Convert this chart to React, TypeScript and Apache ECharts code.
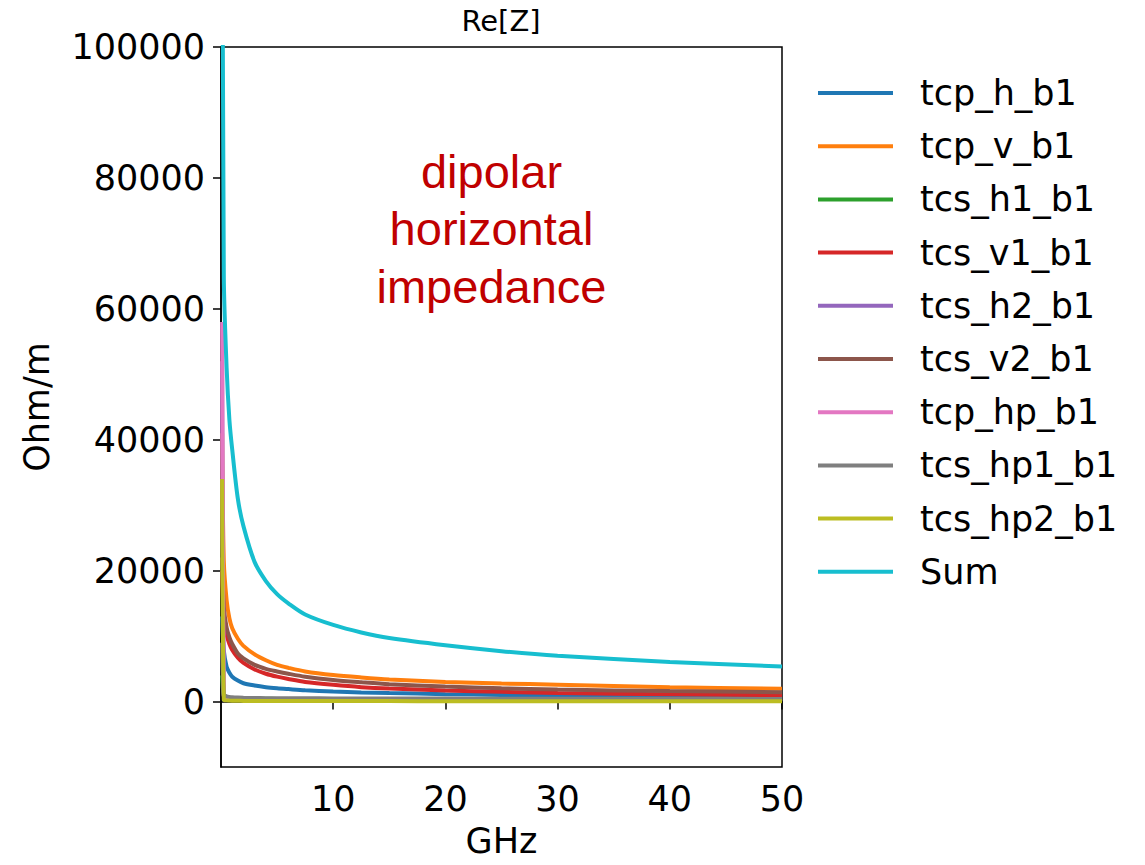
import React, { useEffect, useRef } from "react";
import * as echarts from "echarts";

const freq = [0.1, 0.25, 0.5, 0.75, 1, 1.5, 2, 3, 4, 5, 6, 7.5, 10, 12.5, 15, 20, 25, 30, 40, 50];

const seriesNames = [
  "tcp_h_b1", "tcp_v_b1", "tcs_h1_b1", "tcs_v1_b1", "tcs_h2_b1",
  "tcs_v2_b1", "tcp_hp_b1", "tcs_hp1_b1", "tcs_hp2_b1", "Sum",
];

const colors = [
  "#1f77b4", "#ff7f0e", "#2ca02c", "#d62728", "#9467bd",
  "#8c564b", "#e377c2", "#7f7f7f", "#bcbd22", "#17becf",
];

// Ohm/m values
const tcpH = [13000, 7800, 5300, 4400, 3800, 3200, 2800, 2450, 2200, 2030, 1900, 1720, 1530, 1400, 1300, 1130, 1000, 890, 730, 610];
const tcpV = [41000, 21500, 15500, 12700, 11200, 9600, 8500, 7200, 6300, 5600, 5150, 4600, 4050, 3680, 3380, 3000, 2750, 2580, 2200, 1940];
const tcsH1 = [4000, 1000, 700, 600, 550, 500, 470, 440, 420, 400, 390, 380, 360, 350, 340, 320, 305, 290, 270, 250];
const tcsV1 = [20000, 13300, 10200, 8800, 7900, 6700, 5900, 4900, 4250, 3800, 3450, 3000, 2550, 2200, 1980, 1700, 1480, 1310, 1120, 970];
const tcsH2 = [52000, 900, 550, 450, 400, 360, 340, 320, 300, 290, 280, 270, 260, 250, 240, 230, 220, 210, 200, 190];
const tcsV2 = [22000, 14500, 11300, 9800, 8800, 7350, 6600, 5600, 5000, 4600, 4250, 3800, 3300, 2950, 2650, 2300, 2020, 1830, 1600, 1430];
const tcpHp = [58000, 800, 550, 480, 450, 420, 400, 380, 360, 350, 340, 330, 310, 300, 290, 270, 260, 250, 230, 220];
const tcsHp1 = [9000, 1100, 800, 700, 650, 600, 570, 540, 520, 510, 500, 490, 480, 470, 460, 450, 440, 430, 420, 400];
const tcsHp2 = [34000, 300, 180, 150, 130, 110, 100, 90, 85, 80, 78, 75, 70, 68, 65, 60, 58, 55, 50, 50];
const sumZ = [150000, 65000, 51000, 43000, 38500, 31000, 26800, 21300, 18400, 16400, 15000, 13300, 11700, 10550, 9700, 8600, 7700, 7000, 6030, 5360];

const allValues = [tcpH, tcpV, tcsH1, tcsV1, tcsH2, tcsV2, tcpHp, tcsHp1, tcsHp2, sumZ];

const xTicks = [10, 20, 30, 40, 50];
const yTicks = [0, 20000, 40000, 60000, 80000, 100000];

const FONT = "DejaVu Sans";

export default function App() {
  const ref = useRef<HTMLDivElement>(null);
  useEffect(() => {
    if (!ref.current) return;
    const chart = echarts.init(ref.current, null, { renderer: "svg" });
    const series = seriesNames.map((name, i) => ({
      name,
      type: "line",
      data: freq.map((f, j) => [f, allValues[i][j]]),
      symbol: "none",
      showSymbol: false,
      smooth: 0.3,
      clip: true,
      lineStyle: { width: 4, color: colors[i] },
      itemStyle: { color: colors[i] },
      emphasis: { disabled: true },
      silent: true,
    }));
    chart.setOption({
      animation: false,
      backgroundColor: "#ffffff",
      grid: {
        left: 221,
        right: 363,
        top: 47,
        bottom: 98,
        show: true,
        borderColor: "#000",
        borderWidth: 1.5,
        backgroundColor: "transparent",
      },
      legend: {
        orient: "vertical",
        left: 818,
        top: 75.5,
        padding: 0,
        icon: "rect",
        itemWidth: 75,
        itemHeight: 4,
        itemGap: 18.2,
        selectedMode: false,
        textStyle: {
          fontFamily: FONT,
          fontSize: 35,
          lineHeight: 35,
          color: "#000",
          padding: [0, 0, 0, 22],
        },
        data: seriesNames,
      },
      xAxis: {
        type: "value",
        min: 0,
        max: 50,
        name: "GHz",
        nameLocation: "middle",
        nameGap: 56,
        nameTextStyle: { fontFamily: FONT, fontSize: 35, color: "#000", lineHeight: 35 },
        axisLine: { show: true, lineStyle: { color: "#000", width: 1.5 } },
        axisTick: { show: true, length: 8, lineStyle: { color: "#000", width: 1.5 }, customValues: xTicks },
        axisLabel: {
          fontFamily: FONT,
          fontSize: 35,
          lineHeight: 35,
          color: "#000",
          margin: 14,
          customValues: xTicks,
          formatter: (v: number) => String(v),
        },
        splitLine: { show: false },
      },
      yAxis: {
        type: "value",
        min: -10000,
        max: 100000,
        name: "Ohm/m",
        nameLocation: "middle",
        nameGap: 167,
        nameRotate: 90,
        nameTextStyle: { fontFamily: FONT, fontSize: 35, color: "#000", lineHeight: 35 },
        axisLine: { show: true, lineStyle: { color: "#000", width: 1.5 } },
        axisTick: { show: true, length: 8, lineStyle: { color: "#000", width: 1.5 }, customValues: yTicks },
        axisLabel: {
          fontFamily: FONT,
          fontSize: 35,
          color: "#000",
          margin: 16,
          customValues: yTicks,
          formatter: (v: number) => String(v),
        },
        splitLine: { show: false },
      },
      graphic: [
        {
          type: "text",
          x: 501,
          y: 21,
          style: {
            text: "Re[Z]",
            font: `29px "${FONT}"`,
            fill: "#000",
            textAlign: "center",
            textVerticalAlign: "middle",
          },
        },
        {
          type: "text",
          x: 491.5,
          y: 228.5,
          style: {
            text: "dipolar\nhorizontal\nimpedance",
            font: `47px "Liberation Sans"`,
            lineHeight: 57.5,
            fill: "#c00000",
            textAlign: "center",
            textVerticalAlign: "middle",
          },
        },
      ],
      series,
    });
    return () => chart.dispose();
  }, []);
  return (
    <div
      ref={ref}
      style={{ position: "fixed", left: 0, top: 0, width: 1145, height: 865, background: "#fff" }}
    />
  );
}
